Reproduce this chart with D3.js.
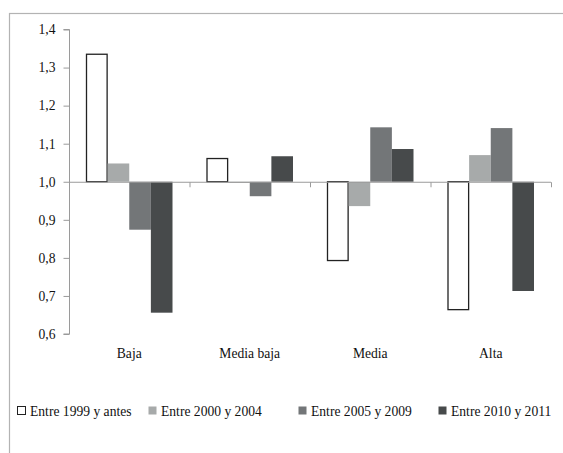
<!DOCTYPE html>
<html><head><meta charset="utf-8">
<script src="https://cdn.jsdelivr.net/npm/d3@7"></script>
<style>html,body{margin:0;padding:0;background:#fff;overflow:hidden}</style>
</head><body>
<svg id="c" width="563" height="453"></svg>
<script>
const categories = ["Baja", "Media baja", "Media", "Alta"];
const seriesNames = ["Entre 1999 y antes", "Entre 2000 y 2004", "Entre 2005 y 2009", "Entre 2010 y 2011"];
const s1999 = [1.335, 1.061, 0.793, 0.664];
const s2000 = [1.048, 0.997, 0.936, 1.070];
const s2005 = [0.874, 0.962, 1.143, 1.141];
const s2010 = [0.656, 1.067, 1.086, 0.713];
const yTicks = [0.6, 0.7, 0.8, 0.9, 1.0, 1.1, 1.2, 1.3, 1.4];

const series = [s1999, s2000, s2005, s2010];
const fills = ["#ffffff", "#a7aaaa", "#737678", "#474a4b"];
const strokes = ["#222222", "none", "none", "none"];

const svg = d3.select("#c");
const FONT = "'Liberation Serif'";
const FS = "13.6px";
function styleText(sel) {
  return sel.style("font-family", FONT).style("font-size", FS).style("fill", "#111");
}

// outer chart border
svg.append("rect").attr("x", 9.5).attr("y", 13.5).attr("width", 600).attr("height", 500)
  .attr("fill", "none").attr("stroke", "#b3b3b3").attr("stroke-width", 1.2);

const y = d3.scaleLinear().domain([0.6, 1.4]).range([334, 29.5]);
const x = d3.scaleBand().domain(categories).range([69, 551]).paddingInner(0).paddingOuter(0);
const groupPad = 17;
const xs = d3.scaleBand().domain(d3.range(series.length)).range([groupPad, x.bandwidth() - groupPad]).padding(0);

// bars
series.forEach((vals, si) => {
  svg.append("g").selectAll("rect").data(vals).join("rect")
    .attr("x", (d, i) => x(categories[i]) + xs(si) + (si === 0 ? 0.5 : 0))
    .attr("width", xs.bandwidth() - (si === 0 ? 1 : 0))
    .attr("y", d => y(Math.max(d, 1)))
    .attr("height", d => Math.abs(y(d) - y(1)))
    .attr("fill", fills[si])
    .attr("stroke", strokes[si])
    .attr("stroke-width", 1.3);
});

// y axis
const yAxis = svg.append("g").attr("transform", "translate(69.5,0)")
  .call(d3.axisLeft(y).tickValues(yTicks).tickSize(6).tickPadding(8)
    .tickFormat(d => d3.format(".1f")(d).replace(".", ",")));
yAxis.selectAll("path,line").attr("stroke", "#9a9a9a");
styleText(yAxis.selectAll("text"));
yAxis.select(".domain").attr("d", "M-6," + y(1.4) + "H0V" + y(0.6) + "H-6");

// x axis at 1.0
const xg = svg.append("g").attr("transform", "translate(0," + (y(1) + 0.5) + ")");
xg.append("line").attr("x1", 69).attr("x2", 551).attr("stroke", "#9a9a9a");
xg.selectAll("line.t").data(categories.concat(["_end"])).join("line").attr("class", "t")
  .attr("x1", d => d === "_end" ? 551.5 : x(d) + 0.5)
  .attr("x2", d => d === "_end" ? 551.5 : x(d) + 0.5)
  .attr("y1", 0).attr("y2", 5).attr("stroke", "#9a9a9a");

// category labels
styleText(svg.append("g").selectAll("text").data(categories).join("text")
  .attr("x", d => x(d) + x.bandwidth() / 2).attr("y", 358)
  .attr("text-anchor", "middle")
  .text(d => d));

// legend
const legX = [17, 148, 298, 438];
const lg = svg.append("g");
seriesNames.forEach((n, i) => {
  lg.append("rect").attr("x", legX[i] + 0.5).attr("y", 406.5).attr("width", 8).attr("height", 8)
    .attr("fill", fills[i]).attr("stroke", i === 0 ? "#222" : "none").attr("stroke-width", 1);
  styleText(lg.append("text").attr("x", legX[i] + 13).attr("y", 416).text(n));
});
</script>
</body></html>
